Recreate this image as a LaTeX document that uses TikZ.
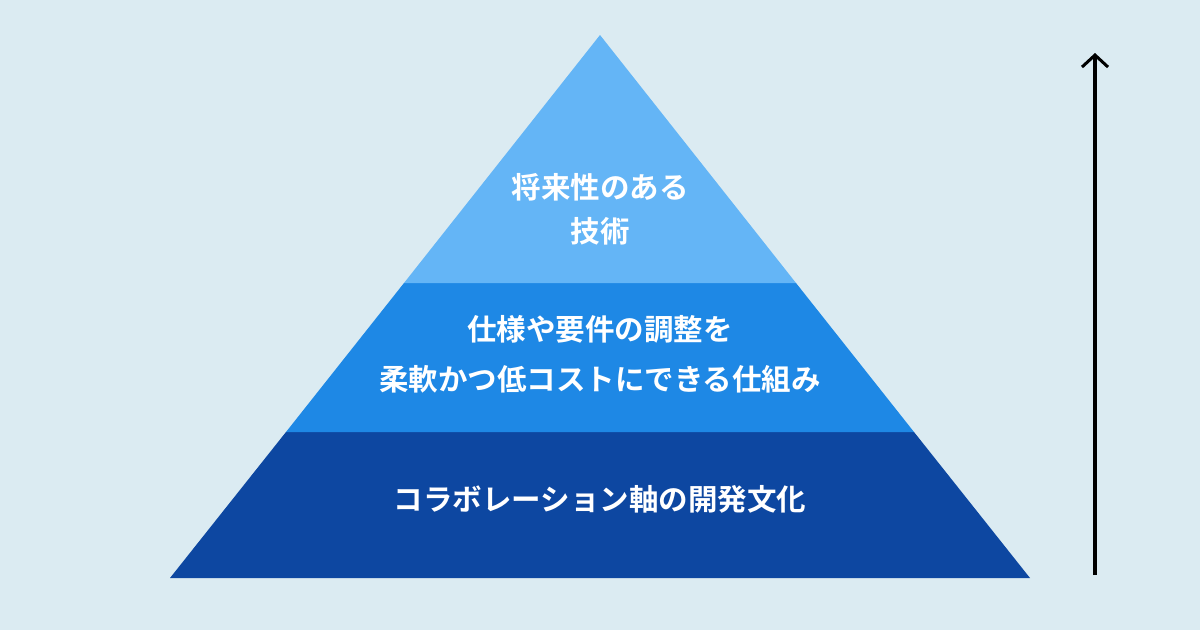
\documentclass[tikz,border=0pt]{standalone}
\usepackage{fontspec}
\newfontfamily\jpbold{Noto Sans CJK JP Bold}
\usetikzlibrary{arrows.meta}
\definecolor{bgc}{HTML}{DBEBF2}
\definecolor{topc}{HTML}{64B5F6}
\definecolor{midc}{HTML}{1E88E5}
\definecolor{botc}{HTML}{0D47A1}
\tikzset{
  lbl/.style={text=white, font=\jpbold\fontsize{29.5}{44}\selectfont, align=center, inner sep=0pt},
  lblmid/.style={lbl, font=\jpbold\fontsize{29.5}{50}\selectfont},
  uparrow/.style={line width=3.5pt, -{Straight Barb[length=12pt,width=26pt,line width=3pt]}}
}
\begin{document}
\begin{tikzpicture}[x=1pt,y=-1pt]
\fill[bgc] (0,0) rectangle (1200,630);
\useasboundingbox (0,0) rectangle (1200,630);
\coordinate (apex) at (600,35);
\coordinate (bl) at (170,578);
\coordinate (br) at (1030,578);
\coordinate (ml) at (286,432);
\coordinate (mr) at (914,432);
\coordinate (tl) at (404,283);
\coordinate (tr) at (796,283);
\fill[botc] (ml) -- (mr) -- (br) -- (bl) -- cycle;
\fill[midc] (tl) -- (tr) -- (mr) -- (ml) -- cycle;
\fill[topc] (apex) -- (tr) -- (tl) -- cycle;
\node[lbl] (t1) at (600,209) {将来性のある\\技術};
\node[lblmid] (t2) at (600,354) {仕様や要件の調整を\\柔軟かつ低コストにできる仕組み};
\node[lbl] (t3) at (600,499) {コラボレーション軸の開発文化};
\coordinate (abot) at (1095,575);
\coordinate (atop) at (1095,53);
\draw[uparrow] (abot) -- (atop);
\end{tikzpicture}
\end{document}
